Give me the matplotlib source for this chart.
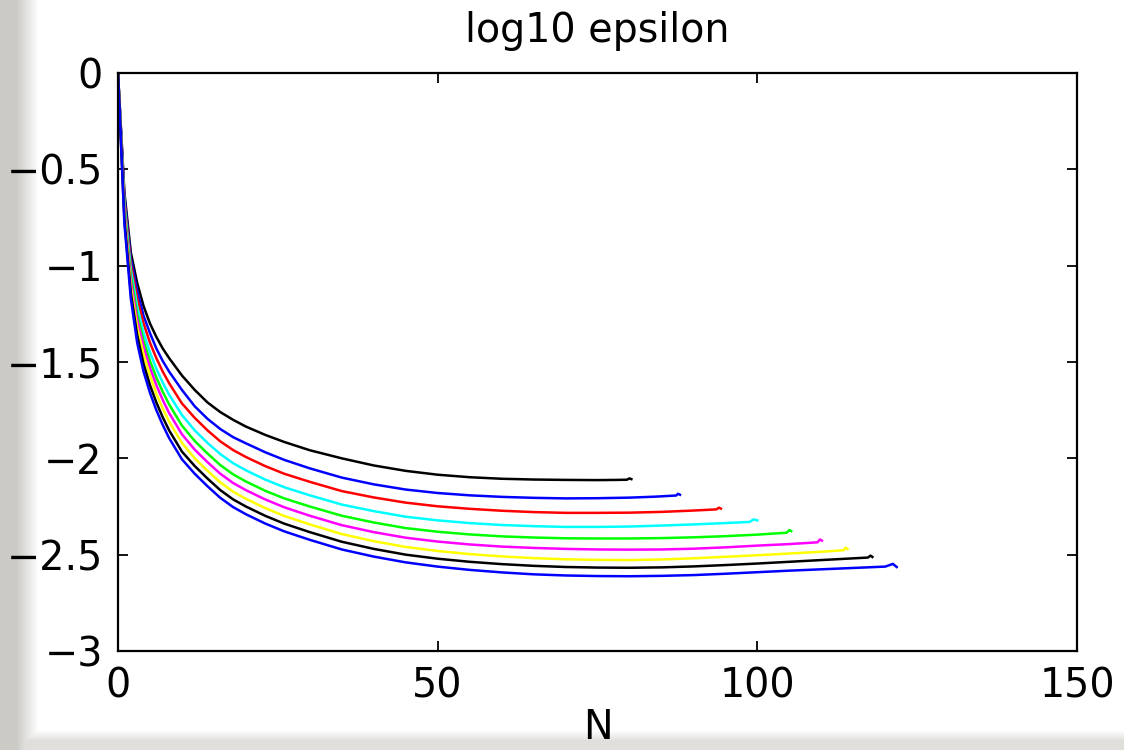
import numpy as np
import matplotlib
matplotlib.use("Agg")
import matplotlib.pyplot as plt

# N values shared by the start of every curve
n_head = [0, 1, 2, 3, 4, 5, 6, 7, 8, 10, 12, 14, 16, 18, 20, 23, 26, 30, 35, 40, 45, 50, 55, 60, 65, 70]

# log10 epsilon (top curve first)
k1_y = [0, -0.62, -0.93, -1.09, -1.21, -1.30, -1.37, -1.43, -1.48, -1.57, -1.645, -1.71, -1.76, -1.80, -1.835,
        -1.878, -1.915, -1.958, -2.00, -2.037, -2.065, -2.085, -2.098, -2.106, -2.11, -2.112]
b1_y = [0, -0.64, -0.96, -1.13, -1.26, -1.35, -1.43, -1.495, -1.55, -1.645, -1.73, -1.795, -1.848, -1.89, -1.922,
        -1.968, -2.008, -2.052, -2.10, -2.135, -2.162, -2.18, -2.192, -2.20, -2.205, -2.208]
r_y = [0, -0.66, -0.99, -1.17, -1.30, -1.40, -1.48, -1.55, -1.61, -1.715, -1.79, -1.855, -1.912, -1.957, -1.993,
       -2.04, -2.08, -2.122, -2.17, -2.203, -2.23, -2.249, -2.262, -2.272, -2.279, -2.283]
c_y = [0, -0.68, -1.02, -1.21, -1.35, -1.45, -1.535, -1.607, -1.67, -1.775, -1.855, -1.92, -1.978, -2.025, -2.062,
       -2.11, -2.15, -2.192, -2.24, -2.274, -2.303, -2.322, -2.336, -2.346, -2.352, -2.356]
g_y = [0, -0.70, -1.05, -1.25, -1.39, -1.495, -1.58, -1.655, -1.72, -1.83, -1.91, -1.975, -2.035, -2.083, -2.12,
       -2.168, -2.208, -2.25, -2.298, -2.333, -2.362, -2.381, -2.395, -2.405, -2.411, -2.415]
m_y = [0, -0.72, -1.08, -1.28, -1.42, -1.53, -1.62, -1.697, -1.765, -1.875, -1.955, -2.02, -2.08, -2.128, -2.165,
       -2.213, -2.254, -2.298, -2.347, -2.383, -2.412, -2.432, -2.447, -2.458, -2.465, -2.47]
y_y = [0, -0.74, -1.11, -1.32, -1.46, -1.57, -1.665, -1.742, -1.81, -1.92, -2.00, -2.065, -2.125, -2.173, -2.21,
       -2.258, -2.299, -2.343, -2.393, -2.43, -2.46, -2.481, -2.497, -2.509, -2.518, -2.524]
k2_y = [0, -0.76, -1.14, -1.36, -1.51, -1.62, -1.71, -1.787, -1.855, -1.965, -2.04, -2.105, -2.165, -2.213, -2.25,
        -2.298, -2.339, -2.383, -2.433, -2.47, -2.50, -2.521, -2.537, -2.549, -2.558, -2.564]
b2_y = [0, -0.78, -1.17, -1.40, -1.55, -1.66, -1.75, -1.827, -1.895, -2.005, -2.08, -2.145, -2.205, -2.253, -2.29,
        -2.338, -2.379, -2.423, -2.473, -2.51, -2.54, -2.562, -2.579, -2.592, -2.602, -2.608]

# tails (each curve stops at a different N, with a small hook)
k1_tn = [75, 78, 79.6, 80.0, 80.3]
k1_ty = [-2.113, -2.112, -2.111, -2.104, -2.108]
b1_tn = [75, 80, 84, 87.3, 87.6, 87.9]
b1_ty = [-2.207, -2.204, -2.199, -2.193, -2.184, -2.189]
r_tn = [75, 80, 85, 90, 93.6, 94.0, 94.3]
r_ty = [-2.283, -2.282, -2.278, -2.271, -2.265, -2.256, -2.261]
c_tn = [75, 80, 85, 90, 95, 98.8, 99.4, 100.0]
c_ty = [-2.356, -2.354, -2.349, -2.343, -2.336, -2.33, -2.317, -2.322]
g_tn = [75, 80, 85, 90, 95, 100, 104.6, 105.0, 105.3]
g_ty = [-2.416, -2.416, -2.414, -2.41, -2.404, -2.396, -2.386, -2.372, -2.378]
m_tn = [75, 80, 85, 90, 95, 100, 105, 109.4, 109.8, 110.1]
m_ty = [-2.473, -2.474, -2.473, -2.469, -2.462, -2.453, -2.445, -2.436, -2.421, -2.427]
y_tn = [75, 80, 85, 90, 95, 100, 105, 110, 113.5, 113.8, 114.1]
y_ty = [-2.527, -2.528, -2.525, -2.519, -2.511, -2.503, -2.494, -2.485, -2.477, -2.464, -2.47]
k2_tn = [75, 80, 85, 90, 95, 100, 105, 110, 117.3, 117.7, 118.0]
k2_ty = [-2.567, -2.568, -2.566, -2.561, -2.554, -2.546, -2.537, -2.528, -2.515, -2.505, -2.512]
b2_tn = [75, 80, 85, 90, 95, 100, 105, 110, 115, 120, 121.2, 121.8]
b2_ty = [-2.611, -2.612, -2.61, -2.606, -2.599, -2.591, -2.583, -2.576, -2.569, -2.562, -2.548, -2.564]

series = [
    (k1_y, k1_tn, k1_ty, "#000000"),
    (b1_y, b1_tn, b1_ty, "#0000ff"),
    (r_y, r_tn, r_ty, "#ff0000"),
    (c_y, c_tn, c_ty, "#00ffff"),
    (g_y, g_tn, g_ty, "#00ff00"),
    (m_y, m_tn, m_ty, "#ff00ff"),
    (y_y, y_tn, y_ty, "#ffff00"),
    (k2_y, k2_tn, k2_ty, "#000000"),
    (b2_y, b2_tn, b2_ty, "#0000ff"),
]

plt.rcParams['font.family'] = ['DejaVu Sans']

fig = plt.figure(figsize=(11.24, 7.5), dpi=100)

# grey paper edge on the left and bottom
bg = fig.add_axes([0, 0, 1, 1], zorder=-10)
W, H = 1124, 750
xx = np.arange(W)[None, :]
yy = np.arange(H)[:, None]
left = np.clip((xx - 16) / 22.0, 0, 1)
bottom = np.clip((740 - yy) / 10.0, 0, 1)
shade = np.minimum(0.80 + 0.20 * left, 0.88 + 0.12 * bottom)
tint = 1 - shade
img = np.dstack([1 - tint, 1 - tint * 1.02, 1 - tint * 1.12])
bg.imshow(img, aspect='auto', extent=[0, 1, 0, 1])
bg.axis('off')

ax = fig.add_axes([118 / W, 1 - 651 / H, (1077 - 118) / W, (651 - 73) / H])
for head_y, tail_n, tail_y, col in series:
    nn = n_head + tail_n
    vv = head_y + tail_y
    ax.plot(nn, vv, color=col, lw=1.8)

ax.set_xlim(0, 150)
ax.set_ylim(-3, 0)
ax.set_xticks([0, 50, 100, 150])
ax.set_yticks([-3, -2.5, -2, -1.5, -1, -0.5, 0])
ax.set_yticklabels(['\u22123', '\u22122.5', '\u22122', '\u22121.5', '\u22121', '\u22120.5', '0'])
ax.tick_params(direction='in', length=7, width=1.3, labelsize=28.5,
               top=True, right=True)
ax.tick_params(axis='y', pad=11)
ax.tick_params(axis='x', pad=11)
for s in ax.spines.values():
    s.set_linewidth(1.6)
ax.set_xlabel('N', fontsize=28.5, labelpad=1)
ax.set_title('log10 epsilon', fontsize=28.5, pad=22)

fig.savefig('out.png', dpi=100)
